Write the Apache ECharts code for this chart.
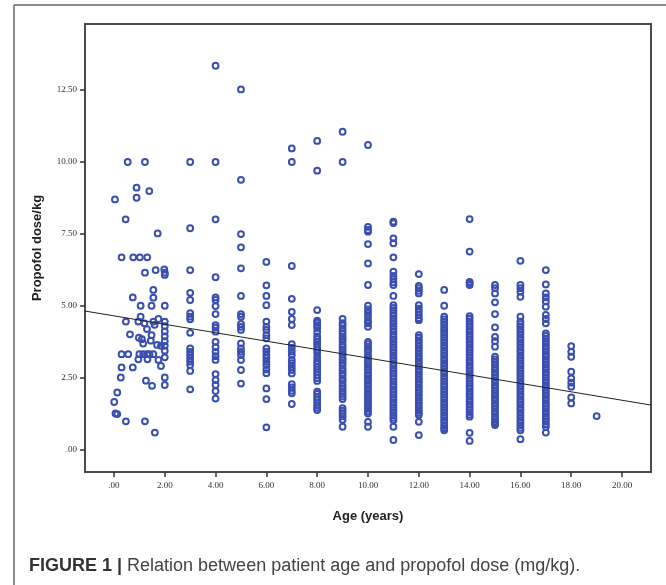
<!DOCTYPE html>
<html>
<head>
<meta charset="utf-8">
<script src="https://cdn.jsdelivr.net/npm/echarts@6/dist/echarts.min.js"></script>
<style>
  html, body { margin: 0; padding: 0; background: #fff; }
  #chart { width: 666px; height: 585px; }
</style>
</head>
<body>
<div id="chart"></div>
<script>
// infants (age not an integer), read point by point
const infantAges = [0.04, 0.54, 1.22, 0.89, 1.39, 0.89, 0.46, 1.72,
  0.30, 0.76, 1.02, 1.31, 1.22, 1.64, 1.98, 2.00, 2.00,
  1.55, 1.55, 0.74, 1.05, 1.48, 2.00, 1.05, 0.47, 0.96, 1.20, 1.55, 1.75,
  2.00, 2.00, 2.00, 2.00, 2.00, 2.00, 2.00, 2.00, 2.00, 2.00,
  0.63, 0.98, 1.10, 1.48, 1.45, 1.70, 1.30, 1.60, 1.15, 1.85,
  0.30, 0.56, 1.00, 1.15, 1.30, 1.40, 1.55,
  0.96, 1.32, 1.75, 0.30, 0.74, 1.85, 0.27, 1.26, 1.50, 0.13, 0.01, 0.06, 0.13, 0.47, 1.22, 1.61];
const infantDoses = [8.70, 10.00, 10.00, 9.11, 8.99, 8.76, 8.01, 7.52,
  6.69, 6.69, 6.69, 6.69, 6.16, 6.25, 6.27, 6.16, 6.08,
  5.56, 5.29, 5.30, 5.01, 5.01, 5.01, 4.63, 4.46, 4.46, 4.40, 4.46, 4.55,
  4.46, 4.30, 4.12, 3.95, 3.78, 3.62, 3.45, 3.22, 2.52, 2.26,
  4.02, 3.90, 3.85, 3.99, 3.80, 3.65, 4.20, 4.35, 3.70, 3.62,
  3.33, 3.33, 3.33, 3.33, 3.33, 3.33, 3.33,
  3.15, 3.15, 3.13, 2.87, 2.87, 2.92, 2.52, 2.41, 2.23, 2.00, 1.67, 1.27, 1.25, 1.00, 1.00, 0.61];

// whole-year columns
const yearAges = [3, 4, 5, 6, 7, 8, 9, 10, 11, 12, 13, 14, 15, 16, 17, 18, 19];
const dose3 = [10.00, 7.70, 6.25, 5.46, 5.21, 4.75, 4.63, 4.54, 4.07, 3.53, 3.41, 3.30, 3.18, 3.07, 2.95, 2.75, 2.11];
const dose4 = [13.34, 10.00, 8.01, 6.00, 5.30, 5.21, 5.00, 4.72, 4.34, 4.25, 4.11, 3.76, 3.57, 3.41, 3.26, 3.13, 2.64, 2.43, 2.26, 2.05, 1.79];
const dose5 = [12.52, 9.38, 7.50, 7.04, 6.31, 5.35, 4.72, 4.63, 4.38, 4.28, 4.17, 3.70, 3.53, 3.41, 3.30, 3.13, 2.78, 2.31];
const dose6 = [6.53, 5.72, 5.35, 5.03, 4.46, 4.28, 4.17, 3.99, 3.88, 3.53, 3.42, 3.30, 3.19, 3.07, 2.95, 2.80, 2.67, 2.14, 1.77, 0.79];
const dose7 = [10.47, 10.00, 6.39, 5.25, 4.80, 4.55, 4.34, 3.68, 3.55, 3.42, 3.30, 3.13, 3.02, 2.90, 2.78, 2.66, 2.29, 2.18, 2.06, 1.97, 1.60];
const dose8 = [10.73, 9.70, 4.86, 4.49, 4.42, 4.34, 4.24, 4.10, 3.95, 3.85, 3.76, 3.68, 3.58, 3.47, 3.36, 3.22, 3.10, 3.00, 2.90, 2.80, 2.70, 2.60, 2.50, 2.40, 2.03, 1.95, 1.85, 1.75, 1.65, 1.55, 1.47, 1.39];
const dose9 = [11.05, 10.00, 4.55, 4.41, 4.33, 4.22, 4.12, 4.03, 3.93, 3.86, 3.77, 3.66, 3.58, 3.49, 3.40, 3.31, 3.20, 3.12, 3.03, 2.95, 2.84, 2.76, 2.67, 2.58, 2.48, 2.41, 2.30, 2.22, 2.13, 2.03, 1.95, 1.86, 1.77, 1.46, 1.37, 1.28, 1.17, 1.05, 0.81];
const dose10 = [10.59, 7.75, 7.64, 7.58, 7.15, 6.48, 5.73, 5.01, 4.88, 4.76, 4.63, 4.50, 4.40, 4.28, 3.76, 3.68, 3.58, 3.49, 3.41, 3.30, 3.22, 3.13, 3.04, 2.95, 2.86, 2.78, 2.67, 2.59, 2.50, 2.41, 2.32, 2.23, 2.14, 2.05, 1.96, 1.88, 1.78, 1.69, 1.60, 1.52, 1.43, 1.34, 1.27, 0.98, 0.81];
const dose11 = [7.93, 7.88, 7.35, 7.18, 6.69, 6.19, 6.05, 5.93, 5.82, 5.73, 5.35, 5.03, 4.94, 4.85, 4.75, 4.66, 4.57, 4.48, 4.39, 4.30, 4.21, 4.12, 4.02, 3.93, 3.84, 3.75, 3.66, 3.57, 3.47, 3.38, 3.30, 3.20, 3.11, 3.02, 2.93, 2.84, 2.75, 2.66, 2.57, 2.47, 2.38, 2.29, 2.20, 2.11, 2.02, 1.93, 1.84, 1.75, 1.66, 1.57, 1.48, 1.39, 1.30, 1.21, 1.12, 1.04, 0.81, 0.35];
const dose12 = [6.11, 5.70, 5.62, 5.53, 5.44, 5.03, 4.91, 4.80, 4.68, 4.58, 4.51, 3.99, 3.90, 3.81, 3.72, 3.62, 3.53, 3.44, 3.35, 3.26, 3.17, 3.08, 2.99, 2.90, 2.81, 2.72, 2.63, 2.54, 2.45, 2.36, 2.27, 2.18, 2.09, 2.00, 1.91, 1.82, 1.73, 1.64, 1.55, 1.46, 1.37, 1.29, 1.22, 0.98, 0.52];
const dose13 = [5.56, 5.01, 4.63, 4.54, 4.45, 4.36, 4.27, 4.18, 4.09, 4.00, 3.91, 3.82, 3.73, 3.64, 3.55, 3.46, 3.37, 3.28, 3.19, 3.10, 3.01, 2.92, 2.83, 2.74, 2.65, 2.56, 2.47, 2.38, 2.29, 2.20, 2.11, 2.02, 1.93, 1.84, 1.75, 1.66, 1.57, 1.48, 1.39, 1.30, 1.21, 1.12, 1.03, 0.94, 0.84, 0.76, 0.69];
const dose14 = [8.02, 6.89, 5.84, 5.80, 5.73, 4.65, 4.56, 4.47, 4.38, 4.29, 4.20, 4.11, 4.02, 3.93, 3.84, 3.75, 3.66, 3.57, 3.48, 3.39, 3.30, 3.21, 3.12, 3.03, 2.94, 2.85, 2.76, 2.67, 2.58, 2.49, 2.40, 2.31, 2.22, 2.13, 2.04, 1.95, 1.86, 1.77, 1.68, 1.59, 1.50, 1.41, 1.32, 1.23, 1.16, 0.60, 0.32];
const dose15 = [5.73, 5.62, 5.44, 5.13, 4.72, 4.26, 3.93, 3.78, 3.59, 3.24, 3.15, 3.06, 2.97, 2.88, 2.79, 2.70, 2.61, 2.52, 2.43, 2.34, 2.25, 2.16, 2.07, 1.98, 1.89, 1.80, 1.71, 1.62, 1.53, 1.44, 1.35, 1.26, 1.17, 1.08, 0.99, 0.93, 0.87];
const dose16 = [6.57, 5.73, 5.62, 5.50, 5.32, 4.63, 4.46, 4.37, 4.28, 4.19, 4.10, 4.01, 3.92, 3.83, 3.74, 3.65, 3.56, 3.47, 3.38, 3.29, 3.20, 3.11, 3.02, 2.93, 2.84, 2.75, 2.66, 2.57, 2.48, 2.39, 2.30, 2.21, 2.12, 2.03, 1.94, 1.85, 1.76, 1.67, 1.58, 1.49, 1.40, 1.31, 1.22, 1.13, 1.04, 0.95, 0.86, 0.77, 0.69, 0.38];
const dose17 = [6.25, 5.75, 5.44, 5.30, 5.16, 4.98, 4.69, 4.55, 4.40, 4.05, 3.96, 3.87, 3.78, 3.69, 3.60, 3.51, 3.42, 3.33, 3.24, 3.15, 3.06, 2.97, 2.88, 2.79, 2.70, 2.61, 2.52, 2.43, 2.34, 2.25, 2.16, 2.07, 1.98, 1.89, 1.80, 1.71, 1.62, 1.53, 1.44, 1.35, 1.26, 1.17, 1.08, 0.99, 0.90, 0.81, 0.61];
const dose18 = [3.61, 3.41, 3.24, 2.72, 2.49, 2.34, 2.20, 1.83, 1.62];
const dose19 = [1.18];
const yearDoses = [dose3, dose4, dose5, dose6, dose7, dose8, dose9, dose10, dose11,
  dose12, dose13, dose14, dose15, dose16, dose17, dose18, dose19];

// fit line
const fitIntercept = 4.66;
const fitSlope = -0.1465;

const xTicks = [0, 2, 4, 6, 8, 10, 12, 14, 16, 18, 20];
const yTicks = [0, 2.5, 5, 7.5, 10, 12.5];
const xMin = -1.14, xMax = 21.14;
const yMin = -0.76, yMax = 14.79;

const points = [];
infantAges.forEach((a, i) => points.push([a, infantDoses[i]]));
yearAges.forEach((a, i) => yearDoses[i].forEach(d => points.push([a, d])));

const spssLabel = v => v === 0 ? '.00' : v.toFixed(2);

const chart = echarts.init(document.getElementById('chart'));
chart.setOption({
  animation: false,
  title: {
    left: 29,
    top: 557,
    padding: 0,
    text: '{b|FIGURE 1 |} {n|Relation between patient age and propofol dose (mg/kg).}',
    textStyle: {
      rich: {
        b: { fontFamily: 'Liberation Sans', fontWeight: 'bold', fontSize: 18, color: '#333' },
        n: { fontFamily: 'Liberation Sans', fontWeight: 'normal', fontSize: 18, color: '#444' }
      }
    }
  },
  graphic: [
    { type: 'line', shape: { x1: 14, y1: 5, x2: 666, y2: 5 }, style: { stroke: '#666', lineWidth: 1.5 } },
    { type: 'line', shape: { x1: 14, y1: 5, x2: 14, y2: 585 }, style: { stroke: '#666', lineWidth: 1.5 } }
  ],
  grid: {
    left: 85, top: 24, right: 15, bottom: 113,
    show: true, borderColor: '#4a4a4a', borderWidth: 2
  },
  xAxis: {
    type: 'value',
    min: xMin, max: xMax,
    name: 'Age (years)',
    nameLocation: 'middle',
    nameGap: 38,
    nameTextStyle: { fontFamily: 'Liberation Sans', fontWeight: 'bold', fontSize: 13, color: '#222' },
    axisLine: { show: false, onZero: false },
    axisTick: { show: true, length: 5, customValues: xTicks, lineStyle: { color: '#333', width: 1.5 } },
    axisLabel: { customValues: xTicks, formatter: spssLabel, margin: 9,
      fontFamily: 'Liberation Serif', fontSize: 9, color: '#333' },
    splitLine: { show: false }
  },
  yAxis: {
    type: 'value',
    min: yMin, max: yMax,
    name: 'Propofol dose/kg',
    nameLocation: 'middle',
    nameGap: 41,
    nameTextStyle: { fontFamily: 'Liberation Sans', fontWeight: 'bold', fontSize: 13, color: '#222' },
    axisLine: { show: false, onZero: false },
    axisTick: { show: true, length: 5, customValues: yTicks, lineStyle: { color: '#333', width: 1.5 } },
    axisLabel: { customValues: yTicks, formatter: spssLabel, margin: 8,
      fontFamily: 'Liberation Serif', fontSize: 9, color: '#333' },
    splitLine: { show: false }
  },
  series: [
    {
      type: 'scatter',
      data: points,
      symbol: 'circle',
      symbolSize: 5.8,
      itemStyle: { color: 'rgba(0,0,0,0)', borderColor: '#3a4fb0', borderWidth: 2, opacity: 1 }
    },
    {
      type: 'line',
      data: [[xMin, fitIntercept + fitSlope * xMin], [xMax, fitIntercept + fitSlope * xMax]],
      symbol: 'none',
      lineStyle: { color: '#222', width: 1 },
      z: 3
    }
  ]
});
</script>
</body>
</html>
